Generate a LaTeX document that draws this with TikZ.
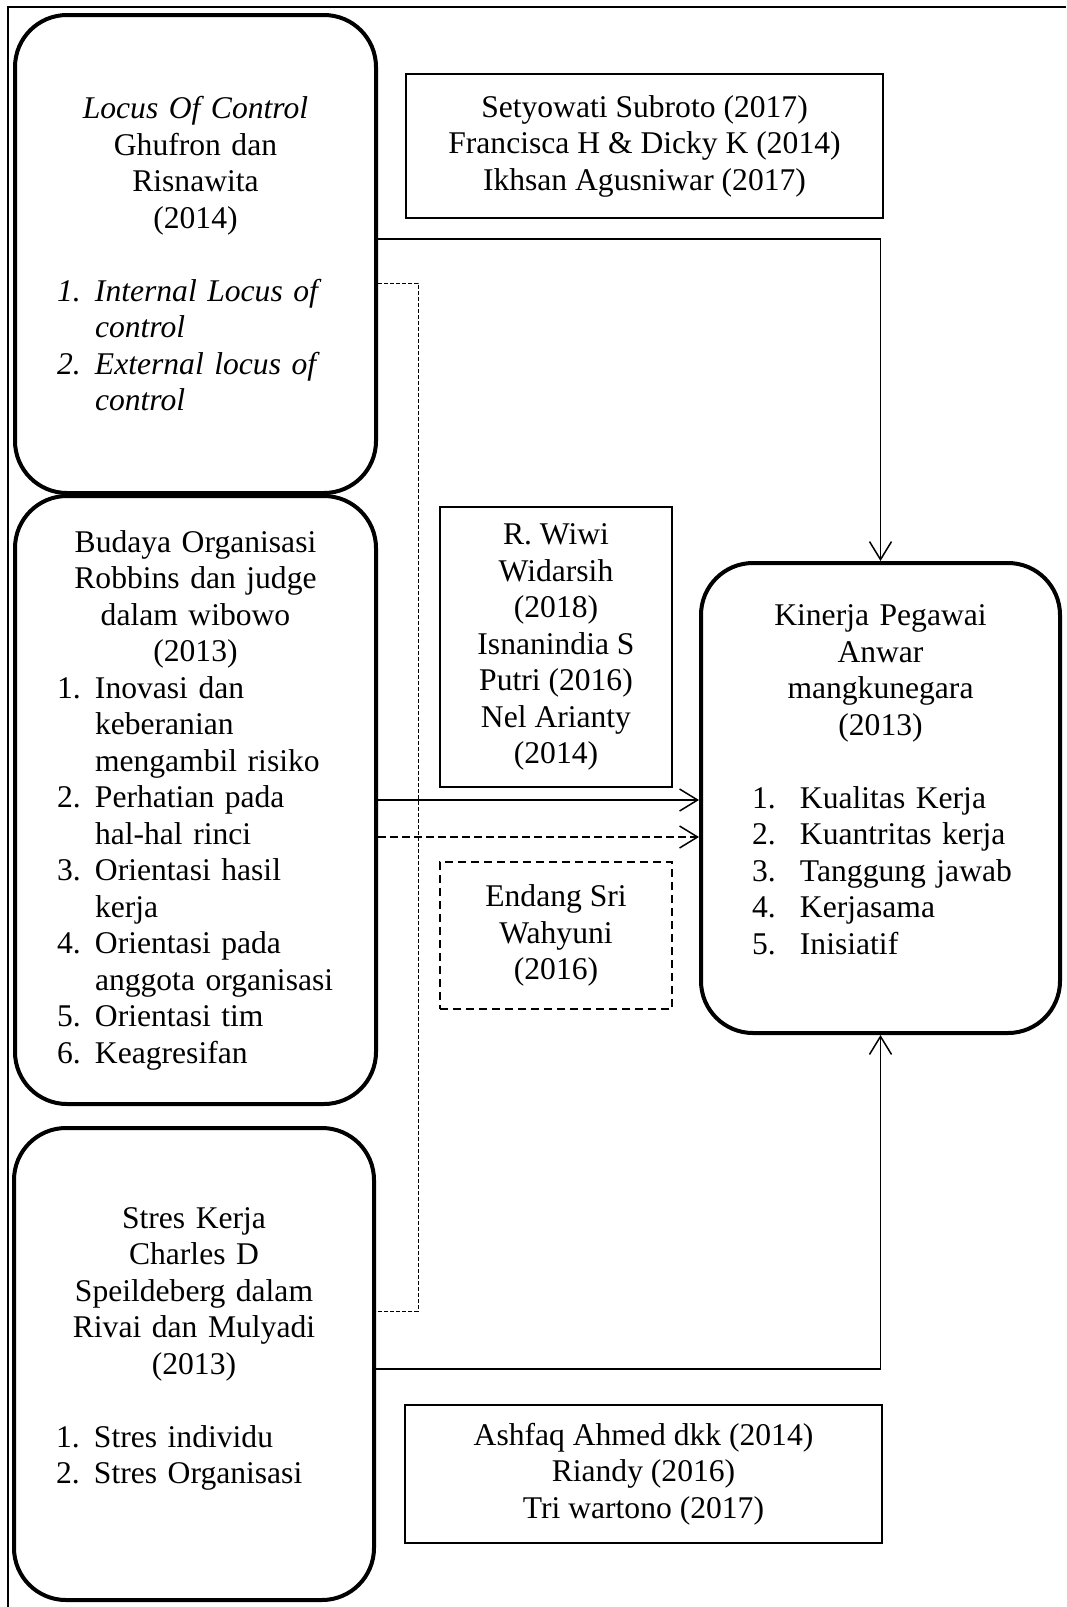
\documentclass[tikz,border=0pt]{standalone}
\usepackage{fontspec}
\setmainfont{Liberation Serif}
\usepackage{tikz}
\usetikzlibrary{arrows.meta,calc,positioning}

\newcommand{\itm}[2]{\makebox[\linewidth][l]{\hspace{21pt}\makebox[19pt][l]{#1}#2}}
\newcommand{\kitm}[2]{\makebox[\linewidth][l]{\hspace{25.5pt}\makebox[24pt][l]{#1}#2}}

\begin{document}
\begin{tikzpicture}[x=0.5pt, y=-0.5pt]
	\tikzstyle{every node} = [font=\fontsize{15.8}{18.25}\selectfont, inner sep=0pt, align=center]
	\tikzstyle{varbox} = [draw = black, line width=2pt, rounded corners=26pt]
	\tikzstyle{refbox} = [draw = black, line width=1pt]
	\tikzstyle{conn} = [line width=0.75pt, -{Straight Barb[length=9pt,width=11pt]}]
\useasboundingbox (0,0) rectangle (1066,1607);
\draw[line width=0.75pt] (1066,7) -- (8,7) -- (8,1607);
% variabel
\node[varbox, text width=180.5pt, minimum height=239pt] (lc) at (195.5, 254) {\textit{Locus Of Control}\\ Ghufron dan\\ Risnawita\\ (2014)\\ \mbox{}\\
	\itm{\textit{1.}}{\textit{Internal Locus of}}\\ \itm{}{\textit{control}}\\
	\itm{\textit{2.}}{\textit{External locus of}}\\ \itm{}{\textit{control}}};
\node[varbox, text width=180.5pt, minimum height=304pt] (bo) at (195.5, 800) {Budaya Organisasi\\ Robbins dan judge\\ dalam wibowo\\ (2013)\\
	\itm{1.}{Inovasi dan}\\ \itm{}{keberanian}\\ \itm{}{mengambil risiko}\\
	\itm{2.}{Perhatian pada}\\ \itm{}{hal-hal rinci}\\
	\itm{3.}{Orientasi hasil}\\ \itm{}{kerja}\\
	\itm{4.}{Orientasi pada}\\ \itm{}{anggota organisasi}\\
	\itm{5.}{Orientasi tim}\\ \itm{6.}{Keagresifan}};
\node[varbox, text width=180pt, minimum height=236pt] (sk) at (194, 1364) {Stres Kerja\\ Charles D\\ Speildeberg dalam\\ Rivai dan Mulyadi\\ (2013)\\ \mbox{}\\
	\itm{1.}{Stres individu}\\ \itm{2.}{Stres Organisasi}\\ \mbox{}};
\node[varbox, text width=179.5pt, minimum height=235pt] (kp) at (880.5, 798) {Kinerja Pegawai\\ Anwar\\ mangkunegara\\ (2013)\\ \mbox{}\\
	\kitm{1.}{Kualitas Kerja}\\ \kitm{2.}{Kuantritas kerja}\\ \kitm{3.}{Tanggung jawab}\\
	\kitm{4.}{Kerjasama}\\ \kitm{5.}{Inisiatif}\\ \mbox{}};
% penelitian terdahulu
\node[refbox, minimum width=238.5pt, minimum height=72pt] (r1) at (644.5, 146) {Setyowati Subroto (2017)\\ Francisca H \& Dicky K (2014)\\ Ikhsan Agusniwar (2017)};
\node[refbox, minimum width=116pt, minimum height=140pt] (r2) at (556, 647) {R. Wiwi\\ Widarsih\\ (2018)\\ Isnanindia S\\ Putri (2016)\\ Nel Arianty\\ (2014)};
\node[refbox, dash pattern=on 4pt off 2.5pt, minimum width=116pt, minimum height=73.5pt] (r3) at (556, 935.5) {Endang Sri\\ Wahyuni\\ (2016)};
\node[refbox, minimum width=238.5pt, minimum height=69pt] (r4) at (643.5, 1474) {Ashfaq Ahmed dkk (2014)\\ Riandy (2016)\\ Tri wartono (2017)};
% garis
\coordinate (t1) at (884, 239);
\coordinate (b1) at (883, 1369);
\coordinate (da) at ([yshift=-18.5pt]bo.east);
\coordinate (fa) at (418, 283);
\coordinate (fb) at (418, 1311);
	\path[draw, conn] (lc.east |- t1) -| (kp.north);
	\path[draw, conn] (sk.east |- b1) -| (kp.south);
	\path[draw, conn] (bo.east) -- (kp.west |- bo.east);
	\path[draw, conn, dash pattern=on 4pt off 2pt] (da) -- (da -| kp.west);
	\path[draw, line width=0.5pt, dash pattern=on 2pt off 1pt] (lc.east |- fa) -- (fa) -- (fb) -- (sk.east |- fb);
\end{tikzpicture}
\end{document}
